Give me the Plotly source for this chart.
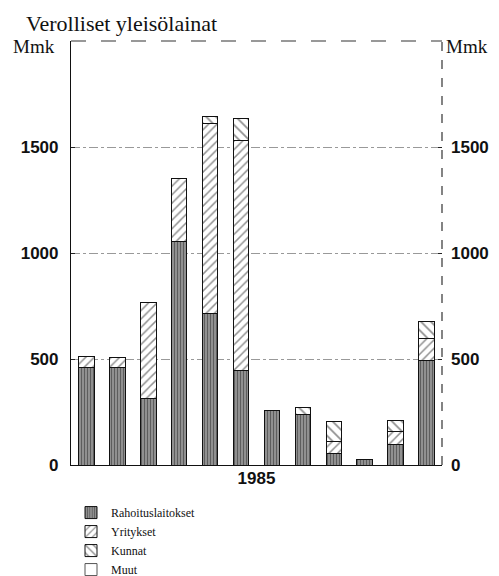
import plotly.graph_objects as go

months = ["Tammi", "Helmi", "Maalis", "Huhti", "Touko", "Kesä",
          "Heinä", "Elo", "Syys", "Loka", "Marras", "Joulu"]
rahoitus = [460, 460, 315, 1055, 715, 448, 255, 237, 52, 25, 99, 495]
yritykset = [50, 45, 450, 295, 895, 1085, 0, 0, 58, 0, 58, 100]
kunnat = [0, 0, 0, 0, 35, 100, 0, 35, 96, 0, 52, 80]
muut = [0, 0, 0, 0, 0, 0, 0, 0, 0, 0, 0, 0]
yticks = [0, 500, 1000, 1500]
ytick_text = ["0", "500", "1000", "1500"]

SERIF = "Liberation Serif"
SANS = "Liberation Sans"

fig = go.Figure()
fig.add_trace(go.Bar(
    x=months, y=rahoitus, name="Rahoituslaitokset",
    marker=dict(color="#8a8a8a", line=dict(color="#111", width=1),
                pattern=dict(shape="|", fgcolor="#1a1a1a", bgcolor="#a0a0a0",
                             size=3, solidity=0.5)),
))
fig.add_trace(go.Bar(
    x=months, y=yritykset, name="Yritykset",
    marker=dict(color="white", line=dict(color="#111", width=1),
                pattern=dict(shape="/", fgcolor="#222", bgcolor="white",
                             size=6, solidity=0.25)),
))
fig.add_trace(go.Bar(
    x=months, y=kunnat, name="Kunnat",
    marker=dict(color="white", line=dict(color="#111", width=1),
                pattern=dict(shape="\\", fgcolor="#222", bgcolor="white",
                             size=7, solidity=0.25)),
))
fig.add_trace(go.Bar(
    x=months, y=muut, name="Muut", yaxis="y2",
    marker=dict(color="white", line=dict(color="#555", width=1)),
))

fig.update_layout(
    width=499, height=576,
    margin=dict(l=63, r=65, t=33, b=119, autoexpand=False),
    paper_bgcolor="white", plot_bgcolor="white",
    barmode="stack", bargap=0.5,
    showlegend=True,
    title=dict(text="Verolliset yleisölainat", x=18 / 499, xanchor="left",
               y=1 - 15 / 576, yanchor="middle",
               font=dict(family=SERIF, size=22, color="#111")),
    legend=dict(x=0.0, xanchor="left", y=-0.078, yanchor="top",
                traceorder="normal", font=dict(family=SERIF, size=12, color="#111"),
                bgcolor="rgba(0,0,0,0)", itemclick=False),
    xaxis=dict(showticklabels=False, ticks="", showgrid=False,
               showline=True, linecolor="#111", linewidth=1.2,
               title=dict(text="1985", standoff=6,
                          font=dict(family=SANS, size=17, color="#111", weight="bold"))),
    yaxis=dict(range=[0, 2000], tickvals=yticks, ticktext=ytick_text,
               ticks="inside", ticklen=4, tickcolor="#222",
               showline=True, linecolor="#111", linewidth=1.2,
               showgrid=True, gridcolor="#999", gridwidth=0.8, griddash="dashdot",
               zeroline=False, ticklabelstandoff=8,
               tickfont=dict(family=SANS, size=17, color="#111", weight="bold")),
    yaxis2=dict(range=[0, 2000], tickvals=yticks, ticktext=ytick_text,
                overlaying="y", side="right", anchor="x",
                ticks="inside", ticklen=4, tickcolor="#222",
                showline=False, showgrid=False, zeroline=False, ticklabelstandoff=8,
                tickfont=dict(family=SANS, size=17, color="#111", weight="bold")),
    shapes=[
        dict(type="line", xref="paper", yref="paper", x0=0, x1=1, y0=1, y1=1,
             line=dict(color="#333", width=1.2, dash="longdash")),
        dict(type="line", xref="paper", yref="paper", x0=1, x1=1, y0=0, y1=1,
             line=dict(color="#333", width=1.2, dash="dash")),
    ],
    annotations=[
        dict(text="Mmk", xref="paper", yref="paper", x=(3 - 63) / 371, y=(457 - 38) / 424,
             xanchor="left", yanchor="middle", showarrow=False,
             font=dict(family=SERIF, size=19, color="#111")),
        dict(text="Mmk", xref="paper", yref="paper", x=(436 - 63) / 371, y=(457 - 38) / 424,
             xanchor="left", yanchor="middle", showarrow=False,
             font=dict(family=SERIF, size=19, color="#111")),
    ],
)

fig.write_html("out.html")
